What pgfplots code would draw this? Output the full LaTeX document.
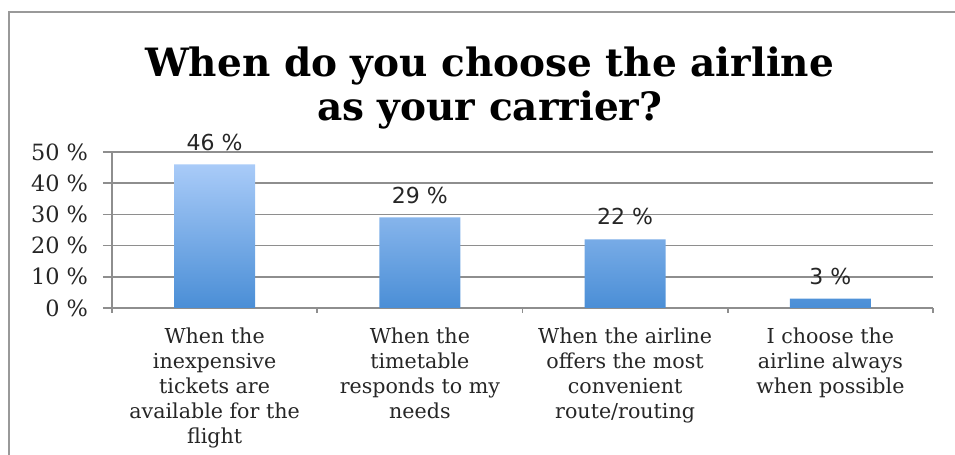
\documentclass[border=0pt]{standalone}
\usepackage{pgfplots}
\pgfplotsset{compat=1.18}
\usepackage{fontspec}
\setmainfont{DejaVu Serif}
\newfontfamily\lblfont{DejaVu Sans}

\definecolor{barTop}{HTML}{A9CBF8}
\definecolor{barBot}{HTML}{4A8ED6}
\definecolor{gridGray}{HTML}{8E8E8E}
\definecolor{frameGray}{HTML}{999999}

\begin{document}
\begin{tikzpicture}
\begin{axis}[
    scale only axis,
    width=410.5pt, height=78pt,
    xmin=-0.5, xmax=3.5,
    ymin=0, ymax=50,
    axis x line*=bottom, axis y line*=left,
    axis line style={-, draw=gridGray, line width=0.8pt},
    tick align=outside,
    xtick={0,1,2,3},
    xticklabels={{When the\\inexpensive\\tickets are\\available for the\\flight},
                 {When the\\timetable\\responds to my\\needs},
                 {When the airline\\offers the most\\convenient\\route/routing},
                 {I choose the\\airline always\\when possible}},
    major x tick style={draw=none},
    minor xtick={-0.5,0.5,1.5,2.5,3.5},
    minor x tick style={draw=gridGray, line width=0.8pt},
    minor tick length=2.5pt,
    xticklabel style={align=center, font=\fontsize{10.3}{12.5}\selectfont, text=black!85, yshift=-2pt},
    ytick={0,10,20,30,40,50},
    yticklabel={\pgfmathprintnumber{\tick} \%},
    yticklabel style={font=\fontsize{11.2}{13}\selectfont, text=black!85, xshift=-4pt},
    major tick length=4.5pt,
    ytick style={draw=gridGray, line width=0.8pt},
    /pgf/number format/assume math mode=true,
    ymajorgrids=true,
    grid style={draw=gridGray, line width=0.8pt},
    clip=false,
]
\addplot[ybar, bar width=0.395, draw=none, top color=barTop, bottom color=barBot,
    nodes near coords={\pgfmathprintnumber{\pgfplotspointmeta} \%},
    every node near coord/.append style={font=\lblfont\fontsize{11}{13}\selectfont, text=black!85, yshift=3.5pt}]
    coordinates {(0,46) (1,29) (2,22) (3,3)};

\node[font=\fontsize{19.5}{23}\selectfont\bfseries, anchor=base] at (axis description cs:0.460,1.481) {When do you choose the airline};
\node[font=\fontsize{19.5}{23}\selectfont\bfseries, anchor=base] at (axis description cs:0.460,1.199) {as your carrier?};

\coordinate (tl) at (axis description cs:-0.1364,1.974);
\coordinate (br) at (axis description cs:1.0268,-0.9423);
\coordinate (fa) at (axis description cs:-0.1255,-0.9423);
\coordinate (fb) at (axis description cs:-0.1255,1.897);
\coordinate (fc) at (axis description cs:1.0268,1.897);
\end{axis}
\draw[frameGray, line width=1pt] (fa) -- (fb) -- (fc);
\pgfresetboundingbox
\path[use as bounding box] (tl) rectangle (br);
\end{tikzpicture}
\end{document}
